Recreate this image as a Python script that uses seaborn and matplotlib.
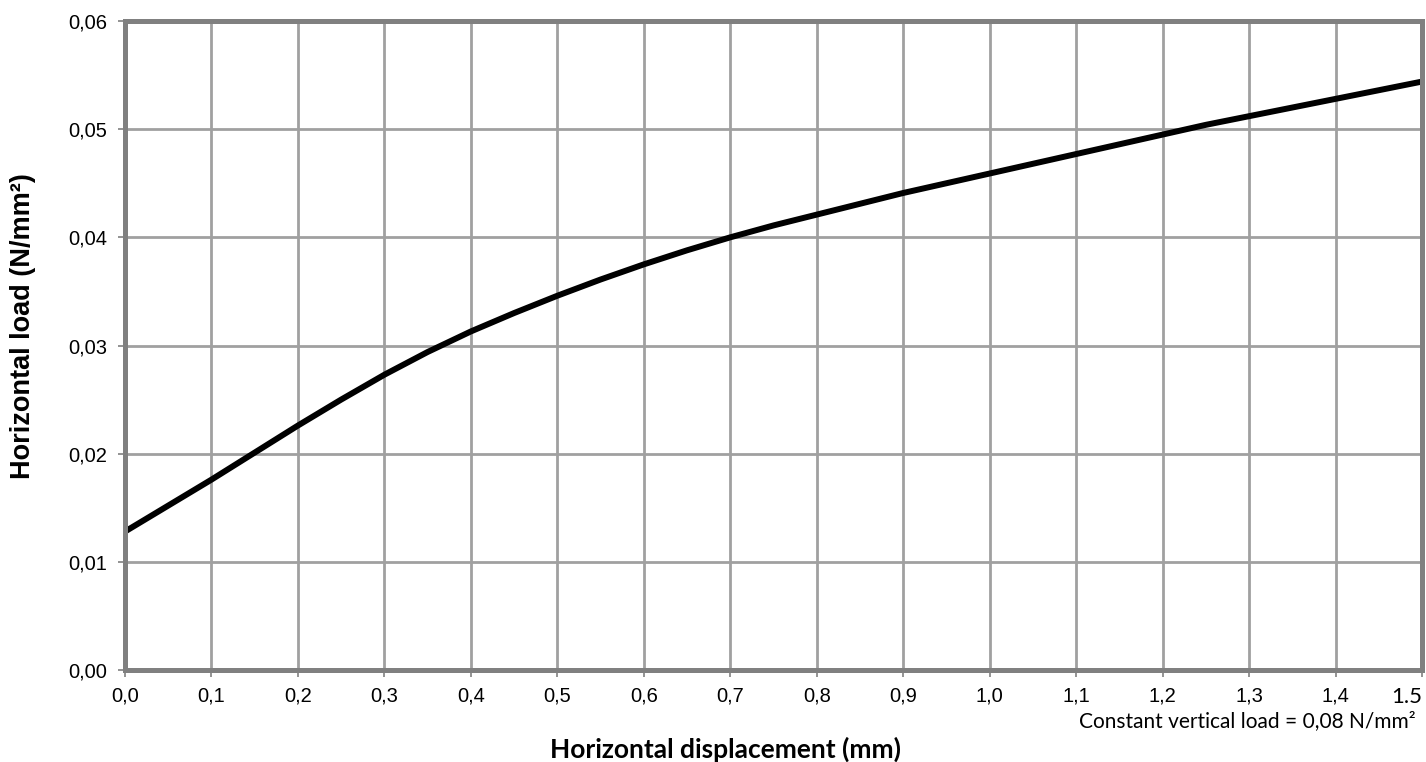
import matplotlib
matplotlib.use("Agg")
import matplotlib.pyplot as plt
import seaborn as sns
import pandas as pd

displacement = [0.0, 0.05, 0.1, 0.15, 0.2, 0.25, 0.3, 0.35, 0.4, 0.45, 0.5, 0.55, 0.6, 0.65, 0.7, 0.75,
                0.8, 0.85, 0.9, 0.95, 1.0, 1.05, 1.1, 1.15, 1.2, 1.25, 1.3, 1.35, 1.4, 1.45, 1.5]
load = [0.0128, 0.0152, 0.0176, 0.0201, 0.0226, 0.0250, 0.0273, 0.0294, 0.0313, 0.0330, 0.0346, 0.0361,
        0.0375, 0.0388, 0.0400, 0.0411, 0.0421, 0.0431, 0.0441, 0.0450, 0.0459, 0.0468, 0.0477, 0.0486,
        0.0495, 0.0504, 0.0512, 0.0520, 0.0528, 0.0536, 0.0544]
x_tick_values = [0.0, 0.1, 0.2, 0.3, 0.4, 0.5, 0.6, 0.7, 0.8, 0.9, 1.0, 1.1, 1.2, 1.3, 1.4, 1.5]
x_tick_labels = ["0,0", "0,1", "0,2", "0,3", "0,4", "0,5", "0,6", "0,7", "0,8", "0,9", "1,0", "1,1", "1,2", "1,3", "1,4", "1.5"]
y_tick_values = [0.00, 0.01, 0.02, 0.03, 0.04, 0.05, 0.06]
y_tick_labels = ["0,00", "0,01", "0,02", "0,03", "0,04", "0,05", "0,06"]

df = pd.DataFrame({"x": displacement, "y": load})

sns.set_theme(style="white")
plt.rcParams['font.family'] = ['Liberation Sans', 'DejaVu Sans']

fig = plt.figure(figsize=(14.26, 7.62), dpi=100)
ax = fig.add_axes([125/1426, 1 - 670/762, (1422-125)/1426, (670-21)/762])

grid_c = "#a0a0a0"
for xv in x_tick_values[1:-1]:
    ax.axvline(xv, color=grid_c, lw=2, zorder=1)
for yv in y_tick_values[1:-1]:
    ax.axhline(yv, color=grid_c, lw=2, zorder=1)

sns.lineplot(data=df, x="x", y="y", ax=ax, color="black", lw=4.3, zorder=3,
             solid_joinstyle="round", solid_capstyle="butt")

ax.set_xlim(0, 1.5)
ax.set_ylim(0, 0.06)
ax.set_xticks(x_tick_values)
ax.set_xticklabels(x_tick_labels, fontsize=14.5, color="black")
ax.set_yticks(y_tick_values)
ax.set_yticklabels(y_tick_labels, fontsize=14.5, color="black")
last = ax.get_xticklabels()[-1]
last.set_fontfamily(['Lato', 'DejaVu Sans'])
last.set_fontsize(16)
last.set_horizontalalignment("right")

ax.tick_params(axis="both", which="major", length=5, width=1.2, color="#808080",
               direction="out", bottom=True, left=True)
ax.tick_params(axis="x", pad=7)
ax.tick_params(axis="y", pad=8)
for side, sp in ax.spines.items():
    sp.set_visible(True)
    sp.set_color("#808080")
    sp.set_linewidth(3.6)
    sp.set_zorder(4)

ax.set_xlabel("")
ax.set_ylabel("")
fig.text(23/1426, 1 - 326/762, "Horizontal load (N/mm²)", rotation=90, ha="center", va="center",
         fontsize=19.5, fontweight="bold", color="black")
fig.text(725/1426, 1 - 749/762, "Horizontal displacement (mm)", ha="center", va="center",
         fontsize=19, fontweight="bold", color="black", family=['Lato', 'DejaVu Sans'])
fig.text(1416/1426, 1 - 721/762, "Constant vertical load = 0,08 N/mm²", ha="right", va="center",
         fontsize=15, color="black", family=['Lato', 'DejaVu Sans'])

fig.savefig("out.png", dpi=100)
